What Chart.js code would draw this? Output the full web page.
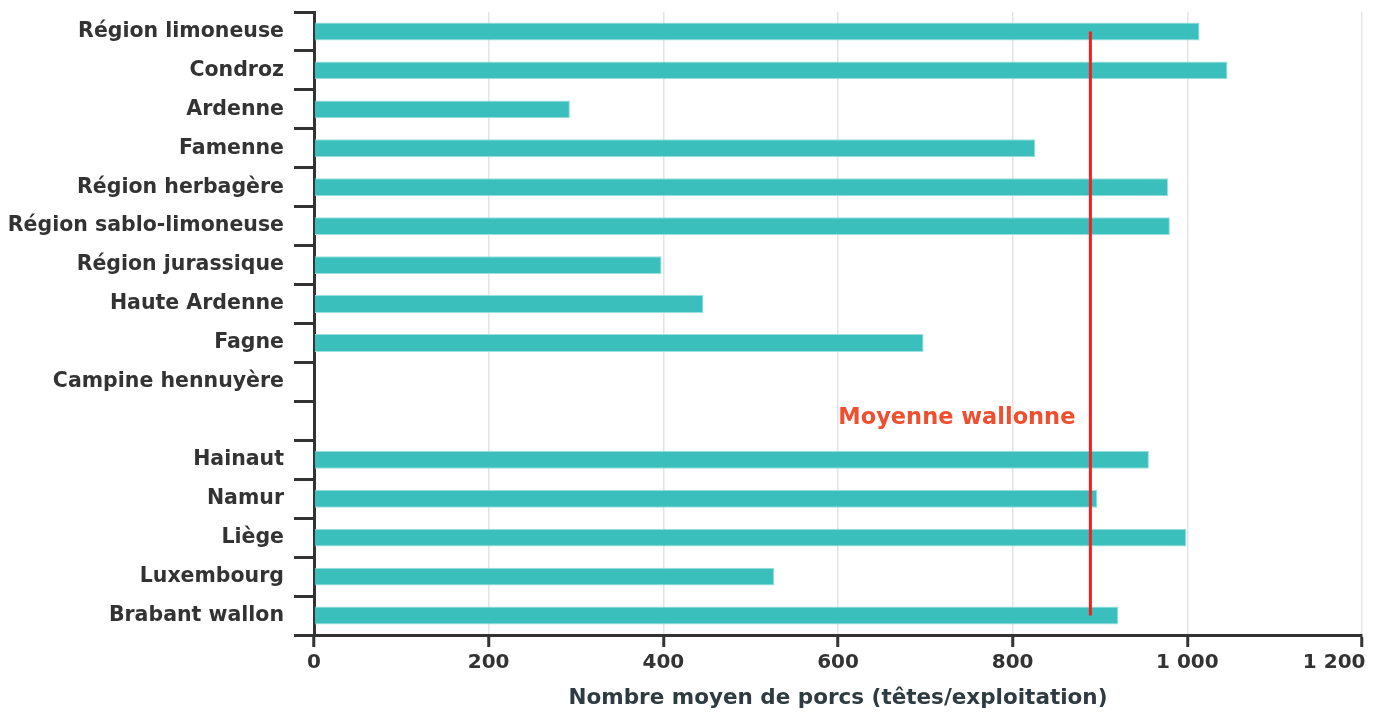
<!DOCTYPE html>
<html lang="fr">
<head>
    <meta charset="UTF-8">
    <title>Nombre moyen de porcs</title>
    <script src="https://cdn.jsdelivr.net/npm/chart.js"></script>
    <style>
        html, body { margin: 0; padding: 0; background: #fff; overflow: hidden; }
        #wrap { width: 1377px; height: 716px; }
    </style>
</head>
<body>
    <div id="wrap"><canvas id="porcsChart"></canvas></div>

    <script>
        // regions agricoles puis provinces (ligne vide pour séparer)
        const regions = [
            'Région limoneuse', 'Condroz', 'Ardenne', 'Famenne', 'Région herbagère',
            'Région sablo-limoneuse', 'Région jurassique', 'Haute Ardenne', 'Fagne',
            'Campine hennuyère', '', 'Hainaut', 'Namur', 'Liège', 'Luxembourg', 'Brabant wallon'
        ];
        const porcs = [1014, 1046, 293, 826, 978, 980, 398, 446, 698, null, null, 956, 897, 999, 527, 921];
        const moyenneWallonne = 889;
        const xTicks = [0, 200, 400, 600, 800, 1000, 1200];

        const fmt = v => String(v).replace(/\B(?=(\d{3})+(?!\d))/g, ' ');
        const dark = '#333333';
        const family = '"DejaVu Sans", sans-serif';

        // ligne verticale de la moyenne + son libellé
        const moyennePlugin = {
            id: 'moyenne',
            afterDatasetsDraw(chart) {
                const { ctx, scales: { x, y } } = chart;
                const px = x.getPixelForValue(moyenneWallonne);
                const top = y.getPixelForValue(0);
                const bottom = y.getPixelForValue(regions.length - 1);
                ctx.save();
                ctx.strokeStyle = '#f21f1f';
                ctx.lineWidth = 3;
                ctx.beginPath();
                ctx.moveTo(px, top);
                ctx.lineTo(px, bottom);
                ctx.stroke();
                ctx.fillStyle = '#ef4f2f';
                ctx.font = 'bold 22.5px ' + family;
                ctx.textAlign = 'right';
                ctx.textBaseline = 'middle';
                ctx.fillText('Moyenne wallonne', px - 15, y.getPixelForValue(10) - 3);
                ctx.restore();
            }
        };

        const ctx = document.getElementById('porcsChart').getContext('2d');
        new Chart(ctx, {
            type: 'bar',
            data: {
                labels: regions,
                datasets: [{
                    data: porcs,
                    backgroundColor: '#3bbfbc',
                    borderColor: '#9be0de',
                    borderWidth: 1,
                    borderSkipped: 'start',
                    barPercentage: 0.46,
                    categoryPercentage: 1
                }]
            },
            plugins: [moyennePlugin],
            options: {
                indexAxis: 'y',
                responsive: true,
                maintainAspectRatio: false,
                animation: false,
                layout: { padding: { top: 12, right: 15, left: 0, bottom: 0 } },
                plugins: {
                    legend: { display: false },
                    tooltip: { enabled: false }
                },
                scales: {
                    x: {
                        min: 0,
                        max: 1200,
                        afterBuildTicks: axis => { axis.ticks = xTicks.map(v => ({ value: v })); },
                        afterFit: axis => {
                            axis.height = 81;
                            axis.paddingLeft = 0;
                            axis.paddingRight = 0;
                        },
                        border: { color: dark, width: 3 },
                        grid: {
                            color: '#e4e4e4',
                            lineWidth: 1.5,
                            tickColor: dark,
                            tickWidth: 3,
                            tickLength: 12
                        },
                        ticks: {
                            padding: 4,
                            color: dark,
                            font: { family: family, weight: 'bold', size: 20 },
                            // le dernier libellé se termine sur sa graduation
                            callback: (v, i, ticks) => i === ticks.length - 1
                                ? fmt(v) + '\u2007'.repeat(4)
                                : fmt(v)
                        },
                        title: {
                            display: true,
                            text: 'Nombre moyen de porcs (têtes/exploitation)',
                            color: '#2e3b40',
                            padding: { top: 4, bottom: 5 },
                            font: { family: family, weight: 'bold', size: 21.5 }
                        }
                    },
                    y: {
                        afterFit: axis => {
                            axis.width = 314;
                            axis.paddingTop = 0;
                            axis.paddingBottom = 0;
                        },
                        border: { color: dark, width: 3 },
                        grid: {
                            offset: true,
                            drawOnChartArea: false,
                            tickColor: dark,
                            tickWidth: 3,
                            tickLength: 20
                        },
                        ticks: {
                            padding: 10,
                            color: dark,
                            font: { family: family, weight: 'bold', size: 20.5 }
                        }
                    }
                }
            }
        });
    </script>
</body>
</html>
